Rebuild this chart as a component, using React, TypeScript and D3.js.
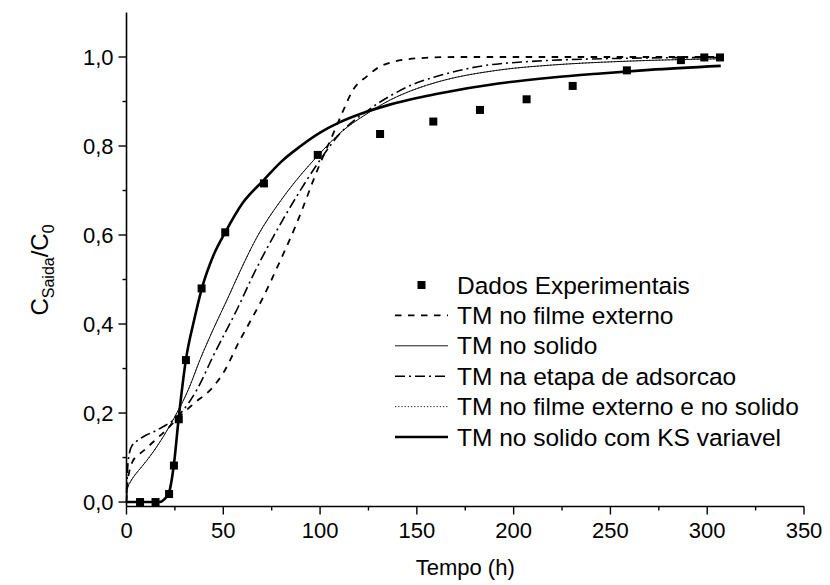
import React from "react";
import * as d3 from "d3";

// Experimental breakthrough data
const expTime = [7, 15, 22, 24.5, 27, 30.7, 38.8, 51, 71, 98.8, 131, 158.5, 182.6, 206.7, 230.5, 258.5, 286.4, 298.5, 306.6];
const expConc = [0, 0, 0.018, 0.082, 0.186, 0.319, 0.48, 0.606, 0.716, 0.78, 0.827, 0.855, 0.881, 0.905, 0.935, 0.97, 0.993, 0.999, 0.999];

// Model: external film mass transfer
const filmTime = [0, 0.5, 1.5, 3, 6, 10, 15, 20, 28, 35, 44.8, 50, 58.6, 63.8, 70, 77.6, 87.9, 99, 106.8, 112, 117, 124, 132.6, 150, 170, 200, 307];
const filmConc = [0, 0.04, 0.07, 0.09, 0.105, 0.12, 0.14, 0.16, 0.195, 0.222, 0.259, 0.29, 0.364, 0.405, 0.455, 0.525, 0.626, 0.75, 0.828, 0.88, 0.926, 0.956, 0.982, 0.997, 1.0, 1.0, 1.0];

// Model: solid-phase mass transfer
const solidTime = [0, 0.5, 2, 4.4, 8, 12, 19, 25, 31.9, 38, 45, 52, 58.6, 68, 79.3, 90, 98.8, 110, 124, 136, 150, 160, 193, 220, 255, 307];
const solidConc = [0, 0.03, 0.045, 0.061, 0.08, 0.102, 0.147, 0.192, 0.252, 0.32, 0.39, 0.455, 0.518, 0.6, 0.675, 0.735, 0.778, 0.828, 0.872, 0.903, 0.929, 0.943, 0.971, 0.982, 0.99, 0.996];

// Model: adsorption step
const adsTime = [0, 0.5, 1.5, 3, 5, 10, 15, 20, 25, 28, 32, 36.3, 45, 56.9, 66, 75.8, 87.8, 98.8, 110.3, 124, 136, 150, 160, 193, 255, 307];
const adsConc = [0.02, 0.07, 0.11, 0.128, 0.136, 0.15, 0.16, 0.172, 0.187, 0.2, 0.222, 0.252, 0.33, 0.431, 0.515, 0.596, 0.686, 0.761, 0.828, 0.878, 0.912, 0.942, 0.956, 0.985, 0.997, 0.999];

// Model: external film + solid
const filmSolidTime = [0, 0.5, 2, 4.4, 8, 12, 19, 25, 31.9, 38, 45, 52, 58.6, 68, 79.3, 90, 98.8, 110, 124, 136, 150, 160, 193, 220, 255, 307];
const filmSolidConc = [0, 0.03, 0.045, 0.061, 0.08, 0.102, 0.147, 0.192, 0.252, 0.32, 0.39, 0.455, 0.518, 0.6, 0.675, 0.735, 0.778, 0.828, 0.872, 0.903, 0.929, 0.943, 0.971, 0.982, 0.99, 0.996];

// Model: solid with variable KS
const ksTime = [0, 10, 17, 19.5, 22, 24.5, 27, 30.7, 35, 38.8, 45, 51, 60, 71, 80, 90, 100, 110, 124, 136, 150, 160, 193, 220, 245, 270, 307];
const ksConc = [0, 0, 0, 0.006, 0.022, 0.085, 0.19, 0.32, 0.41, 0.478, 0.555, 0.606, 0.672, 0.724, 0.765, 0.8, 0.83, 0.853, 0.877, 0.893, 0.908, 0.917, 0.941, 0.954, 0.963, 0.971, 0.98];

const legendLabels = [
  "Dados Experimentais",
  "TM no filme externo",
  "TM no solido",
  "TM na etapa de adsorcao",
  "TM no filme externo e no solido",
  "TM no solido com KS variavel",
];

const xMajor = [0, 50, 100, 150, 200, 250, 300, 350];
const xMinor = [25, 75, 125, 175, 225, 275, 325];
const yMajor = [0, 0.2, 0.4, 0.6, 0.8, 1.0];
const yMinor = [0.1, 0.3, 0.5, 0.7, 0.9];

const W = 830;
const H = 585;
const FONT = "'Liberation Sans', Arial, sans-serif";

const x = d3.scaleLinear().domain([0, 350]).range([126.5, 804]);
const y = d3.scaleLinear().domain([-0.01, 1.1]).range([506.5, 12.5]);

type Pt = [number, number];
const zip = (a: number[], b: number[]): Pt[] => a.map((t, i) => [t, b[i]]);

const line = d3
  .line<Pt>()
  .x((d) => x(d[0]))
  .y((d) => y(d[1]))
  .curve(d3.curveMonotoneX);

const series = [
  { data: zip(filmTime, filmConc), width: 1.8, dash: "6.5,6.5", color: "#000" },
  { data: zip(solidTime, solidConc), width: 0.9, dash: "", color: "#000" },
  { data: zip(adsTime, adsConc), width: 1.6, dash: "10,4,2,4", color: "#000" },
  { data: zip(filmSolidTime, filmSolidConc), width: 0.9, dash: "1.2,2", color: "#000" },
  { data: zip(ksTime, ksConc), width: 2.6, dash: "", color: "#000" },
];

const fmt = (v: number) => v.toFixed(1).replace(".", ",");

export default function App() {
  const x0 = x.range()[0];
  const yb = y.range()[0];
  const legendX0 = 395;
  const legendX1 = 448;
  const legendText = 457;
  const legendY = (i: number) => 285 + i * 30.4;

  return (
    <svg
      width={W}
      height={H}
      viewBox={`0 0 ${W} ${H}`}
      style={{ position: "absolute", left: 0, top: 0, background: "#fff" }}
      fontFamily={FONT}
    >
      <rect width={W} height={H} fill="#fff" />

      {/* model curves */}
      {series.map((s, i) => (
        <path
          key={i}
          d={line(s.data) || ""}
          fill="none"
          stroke={s.color}
          strokeWidth={s.width}
          strokeDasharray={s.dash || undefined}
        />
      ))}

      {/* experimental points */}
      {expTime.map((t, i) => (
        <rect key={i} x={x(t) - 4} y={y(expConc[i]) - 4} width={8} height={8} fill="#000" />
      ))}

      {/* axes */}
      <line x1={x0} x2={x.range()[1]} y1={yb} y2={yb} stroke="#000" strokeWidth={1.6} />
      <line x1={x0} x2={x0} y1={yb} y2={y.range()[1]} stroke="#000" strokeWidth={1.6} />

      {xMajor.map((v) => (
        <g key={`xm${v}`}>
          <line x1={x(v)} x2={x(v)} y1={yb} y2={yb + 8} stroke="#000" strokeWidth={1.4} />
          <text x={x(v)} y={yb + 31} textAnchor="middle" fontSize={22}>
            {v}
          </text>
        </g>
      ))}
      {xMinor.map((v) => (
        <line key={`xn${v}`} x1={x(v)} x2={x(v)} y1={yb} y2={yb + 4} stroke="#000" strokeWidth={1.4} />
      ))}

      {yMajor.map((v) => (
        <g key={`ym${v}`}>
          <line x1={x0 - 8} x2={x0} y1={y(v)} y2={y(v)} stroke="#000" strokeWidth={1.4} />
          <text x={x0 - 13} y={y(v) + 8} textAnchor="end" fontSize={22}>
            {fmt(v)}
          </text>
        </g>
      ))}
      {yMinor.map((v) => (
        <line key={`yn${v}`} x1={x0 - 4} x2={x0} y1={y(v)} y2={y(v)} stroke="#000" strokeWidth={1.4} />
      ))}

      {/* axis titles */}
      <text x={(x0 + x.range()[1]) / 2} y={575} textAnchor="middle" fontSize={22}>
        Tempo (h)
      </text>
      <text transform={`translate(48, 270) rotate(-90)`} textAnchor="middle" fontSize={24}>
        C<tspan fontSize={16} dy={6}>Saida</tspan>
        <tspan dy={-6}>/C</tspan>
        <tspan fontSize={16} dy={6}>0</tspan>
      </text>

      {/* legend */}
      <g>
        <rect x={(legendX0 + legendX1) / 2 - 4} y={legendY(0) - 4} width={8} height={8} fill="#000" />
        {series.map((s, i) => (
          <line
            key={i}
            x1={legendX0}
            x2={legendX1}
            y1={legendY(i + 1)}
            y2={legendY(i + 1)}
            stroke={s.color}
            strokeWidth={s.width}
            strokeDasharray={s.dash || undefined}
          />
        ))}
        {legendLabels.map((l, i) => (
          <text key={l} x={legendText} y={legendY(i) + 8.5} fontSize={24.5}>
            {l}
          </text>
        ))}
      </g>
    </svg>
  );
}
